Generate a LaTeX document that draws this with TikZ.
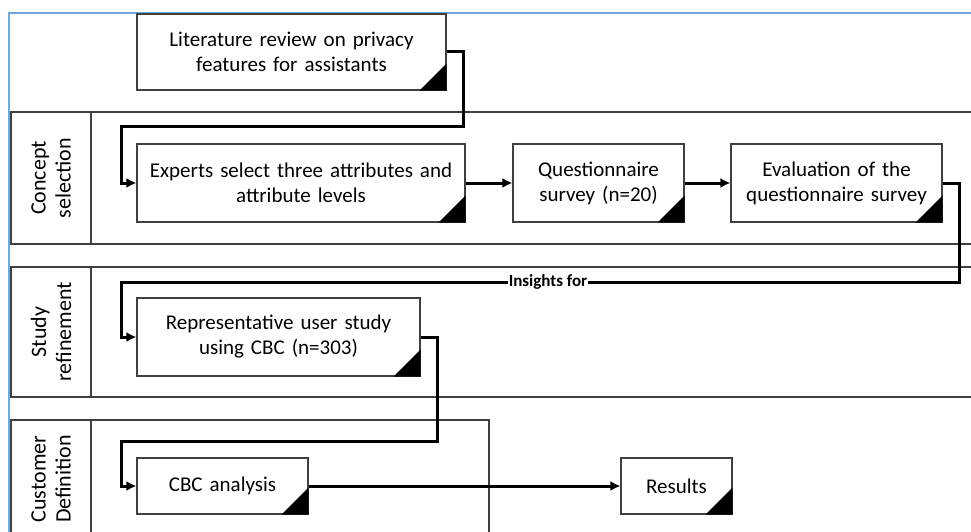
\documentclass[tikz,border=0pt]{standalone}
\usepackage{fontspec}
\setmainfont{Carlito}
\usetikzlibrary{positioning,arrows.meta,calc}
\definecolor{poolblue}{RGB}{111,168,220}

\begin{document}
\begin{tikzpicture}[x=1pt,y=-1pt,>={Latex[length=10pt,width=10pt]},
  task/.style={draw=black!75,line width=1.2pt,fill=white,inner sep=0pt,align=center,
    font=\fontsize{21}{25}\selectfont},
  flow/.style={->,line width=3pt},
  lane/.style={draw=black!75,line width=1.2pt},
  lanelabel/.style={rotate=90,align=center,font=\fontsize{22}{25}\selectfont}]
  \useasboundingbox (0,0) rectangle (971,532);
  % pool and lanes
  \draw[poolblue,line width=2pt] (9,532) -- (9,13) -- (971,13);
  \draw[lane] (971,112) -- (11,112) -- (11,244) -- (971,244);
  \draw[lane] (91,112) -- (91,244);
  \draw[lane] (971,267) -- (11,267) -- (11,397) -- (971,397);
  \draw[lane] (91,267) -- (91,397);
  \draw[lane] (11,532) -- (11,420) -- (489,420) -- (489,532);
  \draw[lane] (91,420) -- (91,532);
  \node[lanelabel] (concept) at (51,178) {Concept\\selection};
  \node[lanelabel] (refine) at (51,332) {Study\\refinement};
  \node[lanelabel] (customer) at (51,479) {Customer\\Definition};
  % tasks
  \node[task,minimum width=309,minimum height=76,text width=300] (lit) at (291.5,52) {Literature review on privacy\\features for assistants};
  \node[task,minimum width=328,minimum height=78,text width=320] (exp) at (301,183) {Experts select three attributes and\\attribute levels};
  \node[task,minimum width=171,minimum height=78,text width=165] (quest) at (598.5,183) {Questionnaire\\survey (n=20)};
  \node[task,minimum width=211,minimum height=78,text width=205] (eval) at (836.5,183) {Evaluation of the\\questionnaire survey};
  \node[task,minimum width=283,minimum height=78,text width=275] (rep) at (278.5,337) {Representative user study\\using CBC (n=303)};
  \node[task,minimum width=171,minimum height=56,text width=165] (cbc) at (222.5,486) {CBC analysis};
  \node[task,minimum width=111,minimum height=56,text width=105] (res) at (676.5,486) {Results};
  \foreach \n in {lit,exp,quest,eval,rep,cbc,res}
    \fill (\n.south east) -- ([xshift=-27pt]\n.south east) -- ([yshift=27pt]\n.south east) -- cycle;
  % connectors
  \coordinate (b1) at (121,127);
  \coordinate (b2) at (121,282);
  \coordinate (b3) at (121,441);
  \draw[flow] (lit.east) -- ++(17,0) |- (b1) |- (exp.west);
  \draw[flow] (exp) -- (quest);
  \draw[flow] (quest) -- (eval);
  \draw[flow] (eval.east) -- ++(17,0) |- (b2) |- (rep.west);
  \draw[flow] (rep.east) -- ++(17,0) |- (b3) |- (cbc.west);
  \draw[flow] (cbc) -- (res);
  \node[fill=white,inner sep=1pt,font=\fontsize{17}{19}\selectfont\bfseries] (insight) at (548,282) {Insights for};
\end{tikzpicture}
\end{document}
